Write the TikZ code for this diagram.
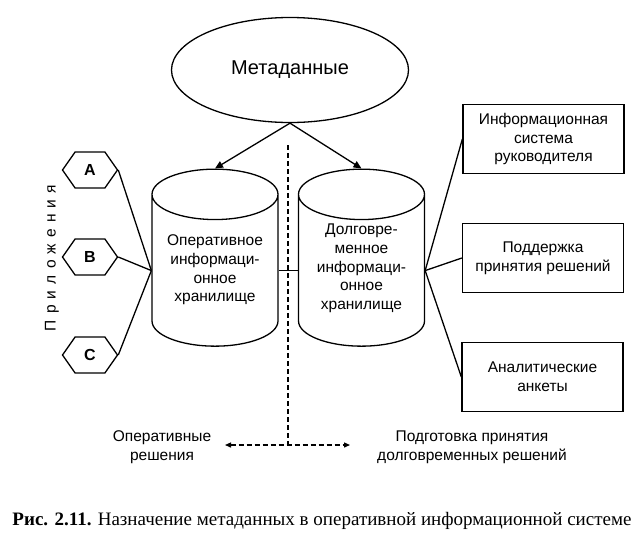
\documentclass[tikz,border=0pt]{standalone}
\usepackage{fontspec}
\setmainfont{Liberation Sans}
\newfontfamily\capfont{Liberation Serif}
\usetikzlibrary{arrows.meta,positioning,shapes.geometric,shapes.symbols}

\begin{document}
\begin{tikzpicture}[x=1pt,y=-1pt,line width=1.3pt,
      every node/.style={font=\fontsize{15.5}{18.7}\selectfont},
      cyl/.style={draw,cylinder,shape border rotate=90,aspect=0.4,minimum width=126pt,minimum height=177pt,inner sep=0pt,anchor=north},
      hex/.style={draw,signal,signal to=west and east,signal pointer angle=110,minimum width=55pt,minimum height=36pt,inner sep=0pt,font=\fontsize{16}{19}\selectfont\bfseries},
      b/.style={draw,minimum width=161pt,minimum height=69pt,align=center,inner sep=2pt},
      >={Triangle[length=8pt,width=7pt]}]
  \useasboundingbox (0,0) rectangle (644,544);
  \node[draw,ellipse,minimum width=237pt,minimum height=105pt,font=\fontsize{20}{24}\selectfont] (meta) at (290,70) {Метаданные};
  % stores
  \node[cyl] (op) at (215,168.5) {\rule{126pt}{0pt}};
  \node[cyl] (lt) at (361.5,168.5) {\rule{126pt}{0pt}};
  \node[align=center] (optxt) at (215,270) {Оперативное\\информаци-\\онное\\хранилище};
  \node[align=center] (lttxt) at (361.5,268.5) {Долговре-\\менное\\информаци-\\онное\\хранилище};
  % applications
  \node[hex] (hA) at (90,170) {A};
  \node[hex] (hB) at (90,257) {B};
  \node[hex] (hC) at (90,355) {C};
  \node[rotate=90] (apps) at (52,258) {\addfontfeatures{LetterSpace=40}Приложения};
  % consumers
  \node[b] (ceo) at (543.5,139) {Информационная\\система\\руководителя};
  \node[b] (dss) at (543,258) {Поддержка\\принятия решений};
  \node[b] (ana) at (542.5,377) {Аналитические\\анкеты};
  \draw[->] (meta.south) -- (op.north);
  \draw[->] (meta.south) -- (lt.north);
  \foreach \h in {hA,hB,hC} \draw (\h.east) -- (op.west);
  \draw (op.east) -- (lt.west);
  \foreach \c in {ceo,dss,ana} \draw (lt.east) -- (\c.west);
  % time horizon
  \coordinate (dtop) at (288,145);
  \coordinate (dbot) at (288,445);
  \coordinate (al) at (225,445);
  \coordinate (ar) at (350,445);
  \draw[dash pattern=on 5pt off 3pt] (dtop) -- (dbot);
  \draw[<->,dash pattern=on 5pt off 3pt,>={Triangle[length=6pt,width=5pt]}] (al) -- (ar);
  \node[align=center] (opdec) at (162,447) {Оперативные\\решения};
  \node[align=center] (ltdec) at (472,447) {Подготовка принятия\\долговременных решений};
  \node[font=\capfont\fontsize{19}{22}\selectfont] (cap) at (322,521) {\textbf{Рис. 2.11.} Назначение метаданных в оперативной информационной системе};
\end{tikzpicture}
\end{document}
